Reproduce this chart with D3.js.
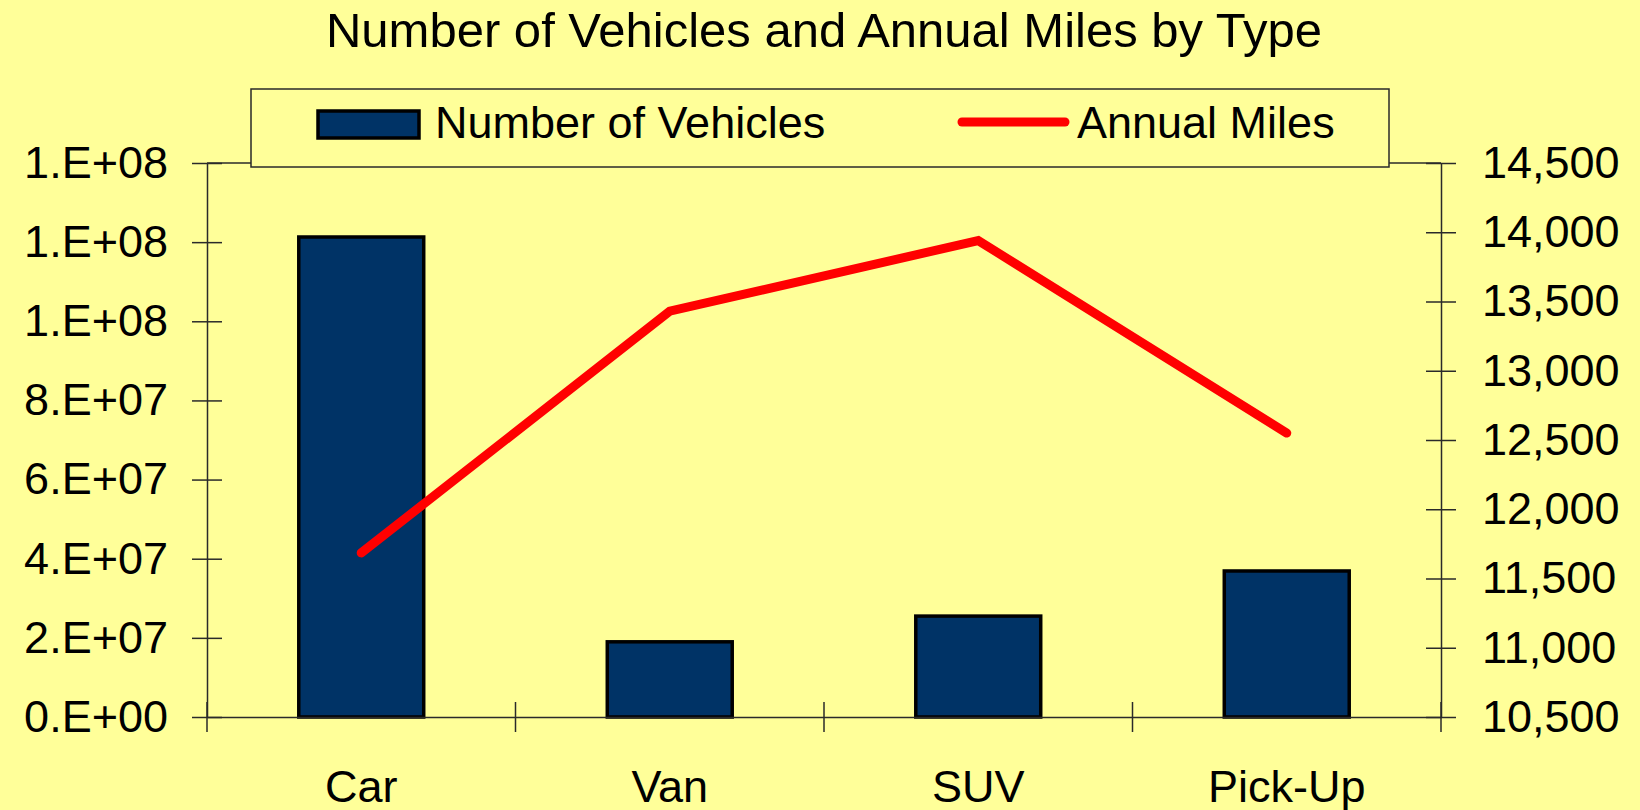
<!DOCTYPE html>
<meta charset="utf-8">
<style>
body { margin: 0; background: #ffff99; }
text { font-family: "Liberation Sans", Arial, sans-serif; fill: #000; }
.axis path, .axis line { fill: none; stroke: #2a2a2a; stroke-width: 1.5px; }
.axis text { font-size: 45px; }
</style>
<svg width="1640" height="810"></svg>
<script src="https://d3js.org/d3.v7.min.js"></script>
<script>
// values
var types = ["Car", "Van", "SUV", "Pick-Up"];
var vehicles = [1.213e8, 1.9e7, 2.55e7, 3.69e7];
var miles = [11685, 13430, 13940, 12550];
var leftTicks = [0, 2e7, 4e7, 6e7, 8e7, 1e8, 1.2e8, 1.4e8];
var rightTicks = [10500, 11000, 11500, 12000, 12500, 13000, 13500, 14000, 14500];

var svg = d3.select("svg"),
  plotLeft = 207, plotRight = 1441, plotTop = 163, plotBottom = 717;

svg.append("rect").attr("width", 1640).attr("height", 810).attr("fill", "#ffff99");

var x = d3.scaleBand().domain(types).range([plotLeft, plotRight]);
var y = d3.scaleLinear().domain([0, 1.4e8]).range([plotBottom, plotTop]);
var y2 = d3.scaleLinear().domain([10500, 14500]).range([plotBottom, plotTop]);

// Excel style "0.E+00"
function sci(v) {
  if (v === 0) return "0.E+00";
  var e = Math.floor(Math.log10(v)), m = Math.round(v / Math.pow(10, e));
  if (m >= 10) { m = 1; e += 1; }
  return m + ".E+" + (e < 10 ? "0" + e : e);
}

// plot area top border (mostly hidden by legend)
svg.append("line")
  .attr("x1", plotLeft).attr("x2", plotRight).attr("y1", plotTop).attr("y2", plotTop)
  .attr("stroke", "#2a2a2a").attr("stroke-width", 1.5);

// bars
var bw = x.bandwidth() * 0.405;
svg.append("g").selectAll("rect").data(types).enter().append("rect")
  .attr("x", function(d) { return x(d) + x.bandwidth() / 2 - bw / 2; })
  .attr("y", function(d, i) { return y(vehicles[i]); })
  .attr("width", bw)
  .attr("height", function(d, i) { return plotBottom - y(vehicles[i]); })
  .attr("fill", "#003366")
  .attr("stroke", "#000")
  .attr("stroke-width", 3.5);

// left axis
var gl = svg.append("g").attr("class", "axis")
  .attr("transform", "translate(" + plotLeft + ",0)")
  .call(d3.axisLeft(y).tickValues(leftTicks).tickFormat(sci).tickSize(15).tickPadding(24).tickSizeOuter(0));
gl.selectAll(".tick line").attr("x1", 15);

// right axis
var gr = svg.append("g").attr("class", "axis")
  .attr("transform", "translate(" + plotRight + ",0)")
  .call(d3.axisRight(y2).tickValues(rightTicks).tickFormat(d3.format(",")).tickSize(15).tickPadding(26).tickSizeOuter(0));
gr.selectAll(".tick line").attr("x1", -15);

// bottom axis
var gb = svg.append("g").attr("class", "axis")
  .attr("transform", "translate(0," + plotBottom + ")")
  .call(d3.axisBottom(x).tickSize(0).tickSizeOuter(0));
gb.selectAll(".tick text").attr("y", 85).attr("dy", 0);
gb.selectAll(".boundary").data(types.map(function(d) { return x(d); }).concat([plotRight]))
  .enter().append("line").attr("class", "boundary")
  .attr("x1", function(d) { return d; }).attr("x2", function(d) { return d; })
  .attr("y1", -15).attr("y2", 15);

// line series
var line = d3.line()
  .x(function(d, i) { return x(types[i]) + x.bandwidth() / 2; })
  .y(function(d) { return y2(d); });
svg.append("path").datum(miles)
  .attr("d", line)
  .attr("fill", "none")
  .attr("stroke", "#ff0000")
  .attr("stroke-width", 9)
  .attr("stroke-linecap", "round")
  .attr("stroke-linejoin", "miter");

// title
svg.append("text")
  .attr("x", (plotLeft + plotRight) / 2).attr("y", 47)
  .attr("text-anchor", "middle")
  .style("font-size", "49px")
  .text("Number of Vehicles and Annual Miles by Type");

// legend
var lg = svg.append("g");
lg.append("rect").attr("x", 251).attr("y", 89).attr("width", 1138).attr("height", 78)
  .attr("fill", "#ffff99").attr("stroke", "#2a2a2a").attr("stroke-width", 1.5);
lg.append("rect").attr("x", 318).attr("y", 111).attr("width", 101).attr("height", 27)
  .attr("fill", "#003366").attr("stroke", "#000").attr("stroke-width", 3.5);
lg.append("text").attr("x", 435).attr("y", 138).style("font-size", "45px").text("Number of Vehicles");
lg.append("line").attr("x1", 962).attr("x2", 1065).attr("y1", 122).attr("y2", 122)
  .attr("stroke", "#ff0000").attr("stroke-width", 9).attr("stroke-linecap", "round");
lg.append("text").attr("x", 1077).attr("y", 138).style("font-size", "45px").text("Annual Miles");
</script>
